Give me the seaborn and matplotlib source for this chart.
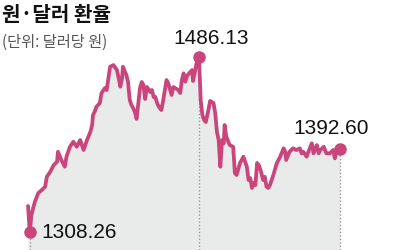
import matplotlib
matplotlib.use("Agg")
import matplotlib.pyplot as plt
import seaborn as sns
import pandas as pd

# ---- data ----
days = [0, 2, 4, 6, 8, 12, 16, 20, 22, 26, 30, 34, 35, 39, 43, 45, 49, 53, 57, 61,
        65, 69, 73, 75, 76, 78, 80, 84, 86, 90, 92, 96, 100, 104, 106, 108, 110, 111, 115, 117,
        119, 121, 123, 125, 127, 131, 133, 135, 137, 139, 141, 143, 145, 147, 149, 151, 152, 154, 156, 158,
        162, 164, 166, 168, 170, 174, 176, 178, 180, 182, 184, 186, 190, 192, 193, 195, 197, 200,
        202, 204, 206, 208, 211, 213, 217, 219, 221, 223, 225, 227, 229, 230, 232, 236, 240, 242,
        244, 248, 252, 256, 258, 260, 262, 264, 266, 268, 270, 272, 273, 275, 277, 279, 281, 283,
        287, 291, 295, 299, 301, 302, 306, 310, 314, 318, 320, 322, 326, 328, 332, 334, 336, 338,
        340, 342, 344, 346, 349, 353, 357, 359, 361, 365]
rates = [1334.7, 1308.26, 1325.5, 1332.6, 1339.0, 1347.9, 1350.9, 1354.3, 1364.4, 1369.5,
         1376.3, 1379.7, 1389.8, 1381.4, 1374.6, 1384.8, 1394.9, 1400.0, 1394.9, 1401.7,
         1391.6, 1401.7, 1410.2, 1417.0, 1427.1, 1430.5, 1435.6, 1439.3, 1449.5, 1454.6,
         1452.5, 1476.2, 1477.9, 1472.8, 1464.7, 1455.9, 1464.7, 1476.2, 1467.8, 1461.0,
         1442.4, 1437.3, 1434.2, 1430.2, 1423.1, 1454.6, 1460.7, 1457.6, 1443.4, 1455.6,
         1453.5, 1450.5, 1452.5, 1445.4, 1445.4, 1439.3, 1437.3, 1434.2, 1432.2, 1441.4,
         1462.7, 1459.6, 1453.5, 1447.5, 1455.6, 1453.5, 1452.5, 1449.5, 1462.7, 1469.5,
         1461.0, 1466.8, 1471.1, 1472.8, 1461.7, 1469.8, 1479.0, 1486.13,
         1442.4, 1427.1, 1422.0, 1420.0, 1432.2, 1441.4, 1439.3, 1429.2, 1410.2, 1401.7,
         1374.6, 1401.7, 1398.4, 1417.0, 1405.1, 1396.6, 1394.9, 1368.2,
         1366.2, 1378.4, 1384.8, 1374.6, 1361.1, 1363.1, 1353.0, 1358.1, 1356.0, 1378.4,
         1376.3, 1371.3, 1368.2, 1361.1, 1364.4, 1354.3, 1353.0, 1356.0,
         1366.2, 1378.1, 1384.8, 1393.3, 1389.8, 1381.4, 1389.8, 1393.3, 1391.6, 1393.3,
         1388.2, 1389.8, 1384.8, 1389.8, 1398.4, 1388.2, 1393.3, 1396.6,
         1388.2, 1391.6, 1393.3, 1394.9, 1388.2, 1388.2, 1391.6, 1383.1, 1391.6, 1392.60]
labels = ["1308.26", "1486.13", "1392.60"]
title = "원·달러 환율"
subtitle = "(단위: 달러당 원)"

df = pd.DataFrame({"day": days, "rate": rates})
i_min = rates.index(min(rates))
i_max = rates.index(max(rates))
i_end = len(rates) - 1

LINE = "#c9457b"
FILL = "#e9eaea"

sns.set_theme(style="white")
plt.rcParams["font.family"] = ["Noto Sans CJK KR", "DejaVu Sans"]

fig = plt.figure(figsize=(4, 2.5), dpi=100)
ax = fig.add_axes([0, 0, 1, 1])
ax.set_xlim(-32.8, 435.2)
ax.set_ylim(1290, 1544)
ymin = 1290

ax.fill_between(days, rates, ymin, color=FILL, lw=0, zorder=1)
for i in (i_min, i_max, i_end):
    ax.vlines(days[i], ymin, rates[i], colors="#9a9a9a", linestyles=(0, (1, 1.5)),
              lw=1.0, zorder=2)
sns.lineplot(data=df, x="day", y="rate", ax=ax, color=LINE, lw=2.7, zorder=3)
ax.plot([days[i] for i in (i_min, i_max, i_end)],
        [rates[i] for i in (i_min, i_max, i_end)],
        "o", ms=8, color=LINE, zorder=4)

num_font = dict(family=["Liberation Sans", "DejaVu Sans"], fontsize=15,
                color="#111111")
ax.annotate(labels[0], (days[i_min], rates[i_min]), xytext=(8.4, -4.5),
            textcoords="offset points", ha="left", va="baseline", **num_font)
ax.annotate(labels[1], (days[i_max], rates[i_max]), xytext=(8.4, 9.6),
            textcoords="offset points", ha="center", va="baseline", **num_font)
ax.annotate(labels[2], (days[i_end], rates[i_end]), xytext=(-6.1, 10.8),
            textcoords="offset points", ha="center", va="baseline", **num_font)

fig.text(0.005, 0.985, title, ha="left", va="top", fontsize=14.5,
         fontweight="bold", color="#111111")
fig.text(0.005, 0.865, subtitle, ha="left", va="top", fontsize=11,
         color="#555555")

ax.axis("off")
fig.savefig("out.png", dpi=100)
